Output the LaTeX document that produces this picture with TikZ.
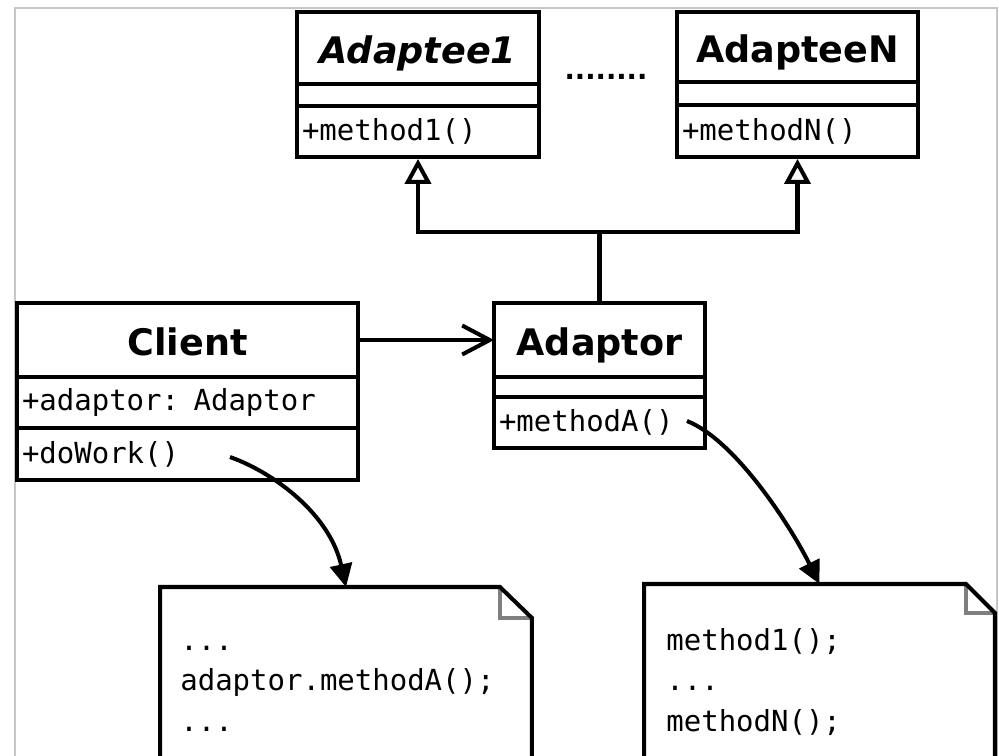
\documentclass[tikz,border=0pt]{standalone}
\usepackage{fontspec}
\usetikzlibrary{positioning,arrows.meta}
\newfontfamily\clsfont{DejaVu Sans}
\newfontfamily\codefont{DejaVu Sans Mono}
\definecolor{ink}{HTML}{000000}
\definecolor{foldgray}{HTML}{7F7F7F}
\definecolor{framegray}{HTML}{C6C6C6}

\tikzset{
  umlbox/.style={draw=ink, line width=2.3pt, inner sep=0pt, outer sep=0pt},
  clsname/.style={umlbox, text height=0.6cm, text depth=0pt,
    font=\clsfont\bfseries\fontsize{20.8}{25}\selectfont},
  abstract/.style={font=\clsfont\bfseries\itshape\fontsize{20.8}{25}\selectfont},
  clsbody/.style={umlbox, text width=#1, inner xsep=0.1cm, align=left,
    font=\codefont\fontsize{16.5}{20}\selectfont},
  notebox/.style={inner sep=0pt, outer sep=0pt},
  notetext/.style={inner sep=0pt, align=left,
    font=\codefont\fontsize{16.5}{23.3}\selectfont},
  noteline/.style={draw=ink, line width=2.3pt, line join=miter},
  foldline/.style={draw=foldgray, line width=1.8pt},
  link/.style={draw=ink, line width=2.3pt},
  realizes/.style={link, -{Triangle[open, length=0.5cm, width=0.52cm, fill=white]}, shorten >=1.1pt},
  uses/.style={link, -{Straight Barb[length=0.55cm, width=0.58cm]}},
  calls/.style={link, -{Triangle[length=0.46cm, width=0.44cm]}},
}

\begin{document}
\begin{tikzpicture}[x=0.02cm,y=-0.02cm]
  \useasboundingbox (0,0) rectangle (999,755);
  % light frame round the sheet
  \draw[framegray, line width=0.6pt] (15,780) -- (15,8) -- (997,8) -- (997,780);

  % adaptees
  \node[clsname, abstract, minimum width=4.84cm, minimum height=1.44cm] (adaptee1) at (418,48) {Adaptee1};
  \node[clsbody=4.64cm, minimum height=0.44cm, below=0pt of adaptee1] (adaptee1attr) {};
  \node[clsbody=4.64cm, minimum height=1.02cm, below=0pt of adaptee1attr] (adaptee1meth) {+method1()};
  \node[font=\clsfont\bfseries\fontsize{15.5}{19}\selectfont, inner sep=0pt] (more) at (606,77) {........};
  \node[clsname, minimum width=4.82cm, minimum height=1.40cm] (adapteeN) at (797.5,47) {AdapteeN};
  \node[clsbody=4.62cm, minimum height=0.46cm, below=0pt of adapteeN] (adapteeNattr) {};
  \node[clsbody=4.62cm, minimum height=1.04cm, below=0pt of adapteeNattr] (adapteeNmeth) {+methodN()};

  % client and adaptor
  \node[clsname, minimum width=6.82cm, minimum height=1.48cm] (client) at (187.5,340) {Client};
  \node[clsbody=6.62cm, minimum height=1.02cm, below=0pt of client] (clientattr) {+adaptor: Adaptor};
  \node[clsbody=6.62cm, minimum height=1.04cm, below=0pt of clientattr] (clientmeth) {+doWork()};
  \node[clsname, minimum width=4.22cm, minimum height=1.48cm] (adaptor) at (599.5,340) {Adaptor};
  \node[clsbody=4.02cm, minimum height=0.40cm, below=0pt of adaptor] (adaptorattr) {};
  \node[clsbody=4.02cm, minimum height=1.02cm, below=0pt of adaptorattr] (adaptormeth) {+methodA()};

  % inheritance fork and association
  \coordinate (fork) at (599.5,232);
  \draw[link] (adaptor.north) -- (fork);
  \draw[realizes] (fork) -| (adaptee1meth.south);
  \draw[realizes] (fork) -| (adapteeNmeth.south);
  \draw[uses] (client.east) -- (adaptor.west);

  % notes
  \node[notebox, minimum width=7.44cm, minimum height=3.9cm, anchor=north] (note1) at (346,587) {};
  \draw[foldline] ([xshift=-0.64cm]note1.north east) |- ([yshift=-0.62cm]note1.north east);
  \draw[noteline] (note1.north west) -- ([xshift=-0.64cm]note1.north east)
    -- ([yshift=-0.62cm]note1.north east) -- (note1.south east) -- (note1.south west) -- cycle;
  \node[notetext, below right=0.68cm and 0.4cm of note1.north west] (note1text)
    {\strut...\\\strut adaptor.methodA();\\\strut...};

  \node[notebox, minimum width=7.02cm, minimum height=3.9cm, anchor=north] (note2) at (819.5,584) {};
  \draw[foldline] ([xshift=-0.58cm]note2.north east) |- ([yshift=-0.58cm]note2.north east);
  \draw[noteline] (note2.north west) -- ([xshift=-0.58cm]note2.north east)
    -- ([yshift=-0.58cm]note2.north east) -- (note2.south east) -- (note2.south west) -- cycle;
  \node[notetext, below right=0.74cm and 0.44cm of note2.north west] (note2text)
    {\strut method1();\\\strut...\\\strut methodN();};

  % calls into the notes
  \coordinate (doworkend) at (230,457);
  \coordinate (methodaend) at (687,421);
  \draw[calls] (doworkend) .. controls (275,473) and (330,515) .. (note1.north);
  \draw[calls] (methodaend) .. controls (735,440) and (790,525) .. (note2.north);
\end{tikzpicture}
\end{document}
